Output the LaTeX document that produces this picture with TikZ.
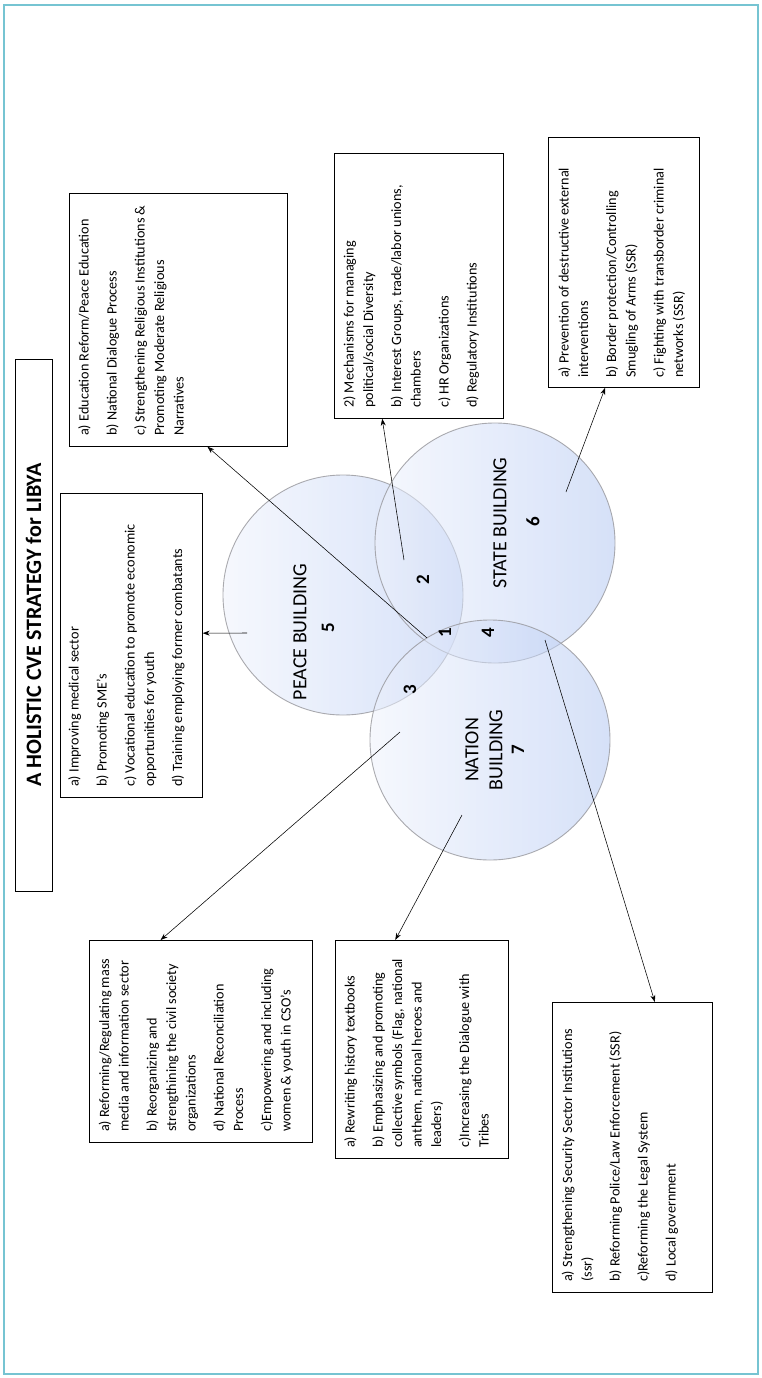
\documentclass[tikz,border=0pt]{standalone}
\usepackage{fontspec}
\setmainfont{Carlito}
\usetikzlibrary{arrows.meta,calc}
\begin{document}
\begin{tikzpicture}[x=1pt,y=-1pt,
  frame/.style={draw={rgb,255:red,118;green,196;blue,210}, line width=1.6pt},
  tbox/.style={draw=black, line width=0.7pt, anchor=north west, inner sep=0pt},
  btext/.style={rotate=90, anchor=north west, align=left, inner sep=0pt, font=\fontsize{14.2}{19.5}\selectfont},
  venn/.style={circle, draw={rgb,255:red,150;green,150;blue,155}, line width=0.9pt,
    left color={rgb,255:red,238;green,242;blue,252}, right color={rgb,255:red,180;green,200;blue,242},
    fill opacity=0.55, draw opacity=0.8, inner sep=0pt},
  arr/.style={-{Stealth[length=7pt,width=5pt]}, line width=0.55pt},
  vlabel/.style={rotate=90, font=\fontsize{20}{24}\selectfont, align=center},
  vnum/.style={rotate=90, font=\fontsize{19}{22}\selectfont\bfseries},
]
\useasboundingbox (0,0) rectangle (762,1378);
\draw[frame] (4,5) rectangle (758,1374);

% Venn circles
\node[venn, minimum size=240pt] (peace) at (343,595) {};
\node[venn, minimum size=240pt] (state) at (495,543) {};
\node[venn, minimum size=240pt] (nation) at (490,740) {};

\node[vlabel] (pl) at (300,632) {PEACE BUILDING};
\node[vnum] (n5) at (328,628) {5};
\node[vlabel] (sl) at (500,523) {STATE BUILDING};
\node[vnum] (n6) at (533,522) {6};
\node[vlabel] (nl) at (484,750) {NATION\\BUILDING};
\node[vnum] (n7) at (518,750) {7};
\node[vnum] (n1) at (445,633) {1};
\node[vnum] (n2) at (423,580) {2};
\node[vnum] (n3) at (410,690) {3};
\node[vnum] (n4) at (488,633) {4};

% Title
\node[draw, line width=0.7pt, rotate=90, minimum width=532pt, minimum height=37pt, inner sep=0pt,
      font=\fontsize{22}{24}\selectfont\bfseries] (title) at (33.5,625) {A HOLISTIC CVE STRATEGY for LIBYA};

% Boxes
\node[tbox, minimum width=218pt, minimum height=253pt] (edu) at (69,193) {};
\node[btext] (edut) at (78,436) {a) Education Reform/Peace Education\\[8.5pt] b) National Dialogue Process\\[8.5pt] c) Strengthening Religious Institutions \&\\ Promoting Moderate Religious\\ Narratives};

\node[tbox, minimum width=142pt, minimum height=304pt] (pb) at (60,493) {};
\node[btext] (pbt) at (68,787) {a) Improving medical sector\\[8.5pt] b) Promoting SME’s\\[8.5pt] c) Vocational education to promote economic\\ opportunities for youth\\[8.5pt] d) Training employing former combatants};

\node[tbox, minimum width=169pt, minimum height=265pt] (mech) at (334,153) {};
\node[btext] (mecht) at (343,408) {2) Mechanisms for managing\\ political/social Diversity\\[8.5pt] b) Interest Groups, trade/labor unions,\\ chambers\\[8.5pt] c) HR Organizations\\[8.5pt] d) Regulatory Institutions};

\node[tbox, minimum width=151pt, minimum height=250pt] (prev) at (548,137) {};
\node[btext] (prevt) at (558,378) {a) Prevention of destructive external\\ interventions\\[8.5pt] b) Border protection/Controlling\\ Smugling of Arms (SSR)\\[8.5pt] c) Fighting with transborder criminal\\ networks (SSR)};

\node[tbox, minimum width=223pt, minimum height=202pt] (media) at (89,940) {};
\node[btext] (mediat) at (98.5,1132) {a) Reforming/Regulating mass\\ media and information sector\\[8.5pt] b) Reorganizing and\\ strengthining the civil society\\ organizations\\[8.5pt] d) National Reconciliation\\ Process\\[8.5pt] c)Empowering and including\\ women \& youth in CSO’s};

\node[tbox, minimum width=173pt, minimum height=218pt] (nat) at (335,940) {};
\node[btext] (natt) at (344,1148) {a) Rewriting history textbooks\\[8.5pt] b) Emphasizing and promoting\\ collective symbols (Flag, national\\ anthem, national heroes and\\ leaders)\\[8.5pt] c)Increasing the Dialogue with\\ Tribes};

\node[tbox, minimum width=160pt, minimum height=290pt] (sec) at (552,1002) {};
\node[btext] (sect) at (561.5,1282) {a) Strengthening Security Sector Institutions\\ (ssr)\\[8.5pt] b) Reforming Police/Law Enforcement (SSR)\\[8.5pt] c)Reforming the Legal System\\[8.5pt] d) Local government};

% Arrows
\coordinate (s1) at (427,638);
\coordinate (s2) at (247,633);
\coordinate (s3) at (404,560);
\coordinate (s4) at (566,492);
\coordinate (s5) at (400,732);
\coordinate (s6) at (462,815);
\coordinate (s7) at (545,640);
\draw[arr] (s1) -- ($(edu.south west)!0.633!(edu.south east)$);
\draw[arr] (s2) -- ($(pb.north east)!0.46!(pb.south east)$);
\draw[arr] (s3) -- ($(mech.south west)!0.284!(mech.south east)$);
\draw[arr] (s4) -- ($(prev.south west)!0.377!(prev.south east)$);
\draw[arr] (s5) -- ($(media.north west)!0.32!(media.north east)$);
\draw[arr] (s6) -- ($(nat.north west)!0.347!(nat.north east)$);
\draw[arr] (s7) -- ($(sec.north west)!0.64!(sec.north east)$);
\end{tikzpicture}
\end{document}
